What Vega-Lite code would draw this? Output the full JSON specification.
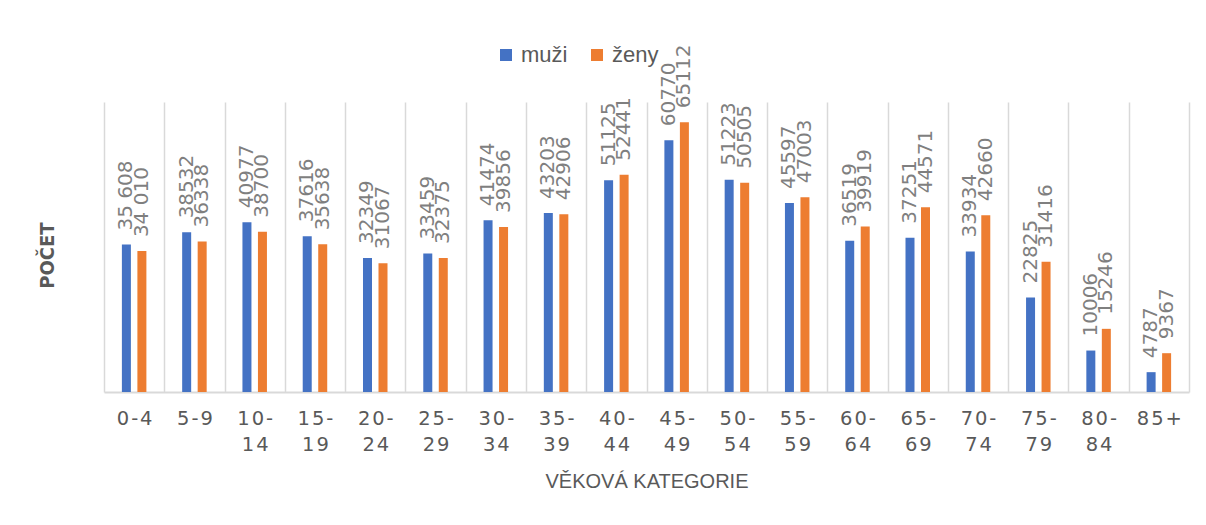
{
  "$schema": "https://vega.github.io/schema/vega-lite/v6.json",
  "width": 1085,
  "height": 290,
  "autosize": {"type": "none"},
  "padding": {"left": 104, "top": 102, "right": 17, "bottom": 133},
  "background": "white",
  "config": {"view": {"stroke": null}},
  "data": {
    "values": [
      {"vek": "0-4", "pohlavi": "muži", "pocet": 35608, "popisek": "35 608"},
      {"vek": "0-4", "pohlavi": "ženy", "pocet": 34010, "popisek": "34 010"},
      {"vek": "5-9", "pohlavi": "muži", "pocet": 38532, "popisek": "38532"},
      {"vek": "5-9", "pohlavi": "ženy", "pocet": 36338, "popisek": "36338"},
      {"vek": "10-14", "pohlavi": "muži", "pocet": 40977, "popisek": "40977"},
      {"vek": "10-14", "pohlavi": "ženy", "pocet": 38700, "popisek": "38700"},
      {"vek": "15-19", "pohlavi": "muži", "pocet": 37616, "popisek": "37616"},
      {"vek": "15-19", "pohlavi": "ženy", "pocet": 35638, "popisek": "35638"},
      {"vek": "20-24", "pohlavi": "muži", "pocet": 32349, "popisek": "32349"},
      {"vek": "20-24", "pohlavi": "ženy", "pocet": 31067, "popisek": "31067"},
      {"vek": "25-29", "pohlavi": "muži", "pocet": 33459, "popisek": "33459"},
      {"vek": "25-29", "pohlavi": "ženy", "pocet": 32375, "popisek": "32375"},
      {"vek": "30-34", "pohlavi": "muži", "pocet": 41474, "popisek": "41474"},
      {"vek": "30-34", "pohlavi": "ženy", "pocet": 39856, "popisek": "39856"},
      {"vek": "35-39", "pohlavi": "muži", "pocet": 43203, "popisek": "43203"},
      {"vek": "35-39", "pohlavi": "ženy", "pocet": 42906, "popisek": "42906"},
      {"vek": "40-44", "pohlavi": "muži", "pocet": 51125, "popisek": "51125"},
      {"vek": "40-44", "pohlavi": "ženy", "pocet": 52441, "popisek": "52441"},
      {"vek": "45-49", "pohlavi": "muži", "pocet": 60770, "popisek": "60770"},
      {"vek": "45-49", "pohlavi": "ženy", "pocet": 65112, "popisek": "65112"},
      {"vek": "50-54", "pohlavi": "muži", "pocet": 51223, "popisek": "51223"},
      {"vek": "50-54", "pohlavi": "ženy", "pocet": 50505, "popisek": "50505"},
      {"vek": "55-59", "pohlavi": "muži", "pocet": 45597, "popisek": "45597"},
      {"vek": "55-59", "pohlavi": "ženy", "pocet": 47003, "popisek": "47003"},
      {"vek": "60-64", "pohlavi": "muži", "pocet": 36519, "popisek": "36519"},
      {"vek": "60-64", "pohlavi": "ženy", "pocet": 39919, "popisek": "39919"},
      {"vek": "65-69", "pohlavi": "muži", "pocet": 37251, "popisek": "37251"},
      {"vek": "65-69", "pohlavi": "ženy", "pocet": 44571, "popisek": "44571"},
      {"vek": "70-74", "pohlavi": "muži", "pocet": 33934, "popisek": "33934"},
      {"vek": "70-74", "pohlavi": "ženy", "pocet": 42660, "popisek": "42660"},
      {"vek": "75-79", "pohlavi": "muži", "pocet": 22825, "popisek": "22825"},
      {"vek": "75-79", "pohlavi": "ženy", "pocet": 31416, "popisek": "31416"},
      {"vek": "80-84", "pohlavi": "muži", "pocet": 10006, "popisek": "10006"},
      {"vek": "80-84", "pohlavi": "ženy", "pocet": 15246, "popisek": "15246"},
      {"vek": "85+", "pohlavi": "muži", "pocet": 4787, "popisek": "4787"},
      {"vek": "85+", "pohlavi": "ženy", "pocet": 9367, "popisek": "9367"}
    ]
  },
  "encoding": {
    "x": {
      "field": "vek",
      "type": "nominal",
      "sort": null,
      "scale": {"paddingInner": 0, "paddingOuter": 0},
      "axis": {
        "title": "VĚKOVÁ KATEGORIE",
        "titleFont": "Liberation Sans",
        "titleFontSize": 20,
        "titleFontWeight": "normal",
        "titleColor": "#595959",
        "titlePadding": 18,
        "labelAngle": 0,
        "labelFont": "DejaVu Sans",
        "labelFontSize": 19.5,
        "labelColor": "#595959",
        "labelPadding": 17,
        "labelLineHeight": 26,
        "labelBaseline": "top",
        "labelExpr": "length(datum.label) <= 3 ? join(split(datum.label, ''), '\u200a') : [join(split(slice(datum.label, 0, indexof(datum.label, '-') + 1), ''), '\u200a'), join(split(slice(datum.label, indexof(datum.label, '-') + 1), ''), '\u200a')]",
        "ticks": false,
        "tickBand": "extent",
        "grid": true,
        "gridColor": "#d9d9d9",
        "gridWidth": 1.5,
        "domainColor": "#d9d9d9",
        "domainWidth": 2
      }
    },
    "xOffset": {
      "field": "pohlavi",
      "type": "nominal",
      "sort": ["muži", "ženy"],
      "scale": {"paddingInner": 0, "paddingOuter": 0.944}
    },
    "y": {
      "field": "pocet",
      "type": "quantitative",
      "scale": {"domain": [0, 70000], "nice": false},
      "axis": {
        "title": "POČET",
        "titleFont": "Liberation Sans Narrow, DejaVu Sans Condensed, sans-serif",
        "titleFontSize": 20,
        "titleFontWeight": "bold",
        "titleColor": "#595959",
        "titlePadding": 47,
        "titleY": 153,
        "labels": false,
        "ticks": false,
        "domain": false,
        "grid": false
      }
    }
  },
  "layer": [
    {
      "mark": {"type": "bar", "width": 9},
      "encoding": {
        "color": {
          "field": "pohlavi",
          "type": "nominal",
          "sort": ["muži", "ženy"],
          "scale": {"domain": ["muži", "ženy"], "range": ["#4472C4", "#ED7D31"]},
          "legend": {
            "title": null,
            "orient": "none",
            "direction": "horizontal",
            "legendX": 391,
            "legendY": -58,
            "symbolType": "square",
            "symbolSize": 144,
            "symbolStrokeWidth": 0,
            "labelFont": "Liberation Sans",
            "labelFontSize": 22,
            "labelColor": "#595959",
            "labelOffset": 4,
            "columnPadding": 18
          }
        }
      }
    },
    {
      "mark": {
        "type": "text",
        "angle": -90,
        "align": "left",
        "baseline": "middle",
        "dx": 14,
        "font": "DejaVu Sans",
        "fontSize": 20,
        "color": "#7f7f7f"
      },
      "encoding": {"text": {"field": "popisek"}}
    }
  ]
}
